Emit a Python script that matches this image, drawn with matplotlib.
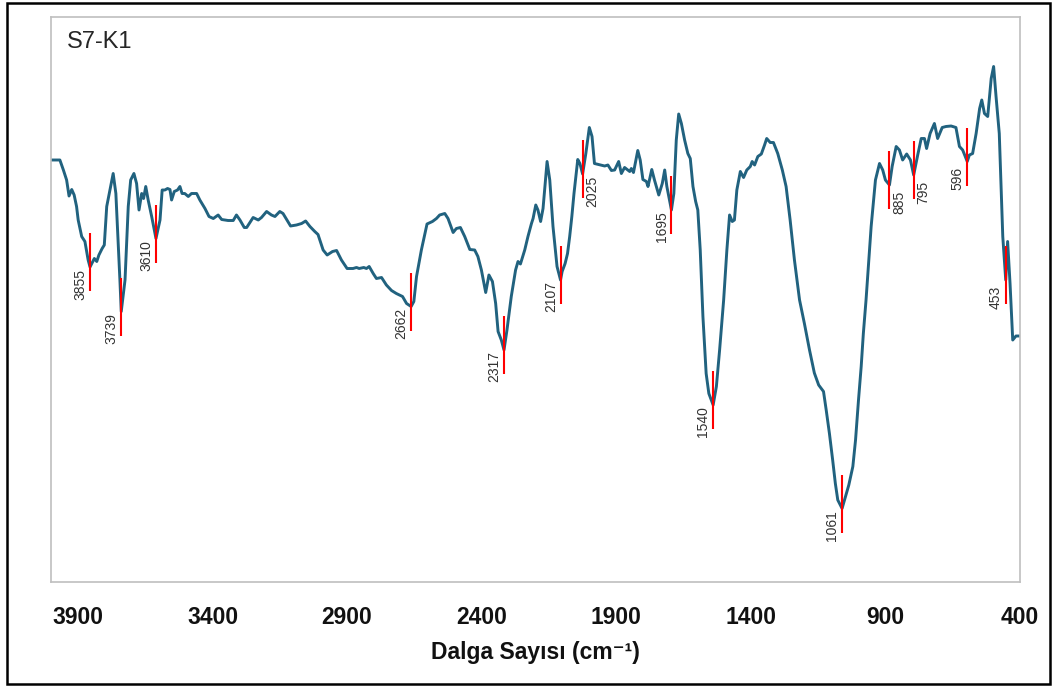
import numpy as np
import matplotlib
matplotlib.use("Agg")
import matplotlib.pyplot as plt
from matplotlib.patches import Rectangle

plt.rcParams['font.family'] = ['Liberation Sans', 'DejaVu Sans']

# FTIR spectrum of sample S7-K1
wavenumber = [4000, 3967, 3954, 3942, 3933, 3923, 3914, 3905, 3899, 3886, 3874, 3862, 3855, 3839, 3830,
              3822, 3810, 3802, 3793, 3781, 3769, 3759, 3744, 3739, 3725, 3713, 3704, 3692, 3682, 3673,
              3663, 3656, 3648, 3639, 3626, 3610, 3595, 3587, 3577, 3567, 3558, 3552, 3542, 3530, 3521,
              3513, 3503, 3490, 3478, 3459, 3447, 3428, 3413, 3397, 3379, 3366, 3342, 3323, 3311, 3298,
              3282, 3273, 3249, 3230, 3218, 3199, 3181, 3168, 3150, 3138, 3110, 3088, 3069, 3054, 3038,
              3020, 3008, 2989, 2974, 2954, 2939, 2921, 2900, 2878, 2865, 2855, 2838, 2828, 2818, 2803,
              2791, 2772, 2754, 2735, 2717, 2694, 2679, 2662, 2652, 2642, 2624, 2603, 2583, 2568, 2556,
              2537, 2525, 2506, 2494, 2479, 2463, 2444, 2426, 2414, 2401, 2385, 2373, 2360, 2348, 2339,
              2327, 2317, 2306, 2290, 2274, 2265, 2256, 2240, 2228, 2215, 2209, 2199, 2191, 2181, 2172,
              2157, 2147, 2135, 2120, 2107, 2101, 2090, 2081, 2073, 2065, 2057, 2043, 2035, 2025, 2013,
              2000, 1990, 1981, 1943, 1931, 1918, 1906, 1891, 1881, 1869, 1850, 1844, 1836, 1820, 1811,
              1801, 1788, 1782, 1768, 1758, 1742, 1729, 1720, 1712, 1695, 1686, 1677, 1668, 1658, 1646,
              1634, 1625, 1615, 1605, 1597, 1588, 1578, 1566, 1556, 1540, 1528, 1516, 1501, 1489, 1479,
              1469, 1461, 1452, 1439, 1427, 1415, 1402, 1395, 1386, 1374, 1361, 1349, 1341, 1328, 1316,
              1300, 1283, 1269, 1254, 1238, 1219, 1201, 1182, 1164, 1148, 1130, 1120, 1108, 1096, 1086,
              1077, 1061, 1052, 1036, 1021, 1011, 1000, 990, 982, 972, 953, 937, 922, 910, 900,
              885, 875, 860, 848, 836, 821, 807, 795, 780, 767, 755, 747, 734, 718, 706,
              689, 675, 656, 638, 625, 613, 596, 588, 576, 563, 550, 542, 532, 520, 507,
              498, 489, 477, 464, 453, 446, 437, 427, 415, 400]

transmittance = [84.4, 84.4, 82.4, 80.4, 77.2, 78.5, 77.4, 75.1, 72.4, 69.1, 68.1, 64.4, 63.0, 64.7, 64.1,
                 65.4, 66.7, 67.4, 75.1, 78.4, 81.7, 77.7, 60.4, 54.1, 60.4, 75.1, 80.4, 81.7, 79.7, 74.4,
                 77.7, 76.7, 79.1, 76.4, 73.1, 68.7, 72.4, 78.4, 78.4, 78.7, 78.5, 76.4, 78.1, 78.4, 79.1,
                 77.7, 77.7, 77.1, 77.7, 77.7, 76.4, 74.7, 73.1, 72.7, 73.4, 72.5, 72.3, 72.3, 73.4, 72.4,
                 70.9, 70.9, 72.9, 72.4, 72.9, 74.1, 73.4, 73.1, 74.1, 73.7, 71.2, 71.4, 71.7, 72.2, 71.1,
                 70.1, 69.5, 66.4, 65.4, 66.1, 66.3, 64.4, 62.7, 62.7, 62.9, 62.7, 62.9, 62.7, 63.1, 61.7,
                 60.7, 60.9, 59.4, 58.3, 57.7, 57.1, 55.7, 55.1, 56.1, 61.1, 66.4, 71.6, 72.1, 72.7, 73.4,
                 73.7, 72.7, 69.9, 70.7, 70.9, 69.1, 66.5, 66.4, 65.1, 62.4, 57.9, 61.4, 60.1, 55.7, 50.1,
                 48.4, 46.4, 50.4, 57.1, 62.4, 64.1, 63.6, 66.4, 69.1, 71.7, 72.7, 75.4, 74.4, 72.1, 74.7,
                 84.1, 80.4, 71.1, 63.1, 60.4, 62.1, 63.7, 65.7, 69.1, 73.1, 77.7, 84.5, 83.7, 81.6, 85.7,
                 90.9, 89.1, 83.7, 83.2, 83.4, 82.3, 82.4, 84.1, 81.7, 82.9, 82.1, 82.7, 81.9, 86.3, 84.4,
                 80.5, 80.1, 79.1, 82.5, 80.4, 77.4, 79.7, 82.4, 79.1, 74.4, 77.7, 88.4, 93.6, 91.7, 88.4,
                 85.7, 84.7, 79.1, 76.1, 74.4, 66.4, 53.1, 41.7, 37.7, 35.4, 39.1, 46.4, 56.4, 66.4, 73.4,
                 72.1, 72.4, 78.4, 82.1, 80.9, 82.4, 83.1, 84.1, 83.4, 85.1, 85.6, 87.4, 88.7, 87.9, 87.9,
                 85.7, 82.4, 79.1, 72.4, 64.4, 56.4, 51.7, 46.4, 41.8, 39.4, 38.1, 34.4, 29.7, 24.4, 19.7,
                 16.4, 14.7, 16.4, 19.4, 23.1, 28.4, 36.4, 43.1, 49.7, 56.4, 71.1, 80.4, 83.7, 82.4, 80.4,
                 79.4, 83.1, 87.1, 86.4, 84.4, 85.6, 84.4, 81.4, 85.4, 88.7, 88.7, 86.7, 89.7, 91.7, 88.7,
                 90.9, 91.1, 91.2, 90.9, 87.1, 86.4, 84.1, 85.4, 85.7, 89.7, 94.7, 96.4, 93.7, 93.1, 100.7,
                 103.1, 97.1, 89.7, 69.1, 60.4, 68.1, 59.7, 48.4, 49.2, 49.2]

# Marked absorption bands
peaks = [3855, 3739, 3610, 2662, 2317, 2107, 2025, 1695, 1540, 1061, 885, 795, 596, 453]
labels_right = {2025, 885, 795}

tick_values = [3900, 3400, 2900, 2400, 1900, 1400, 900, 400]

W, H = 1055, 686
fig = plt.figure(figsize=(W / 100, H / 100), dpi=100)
ax = fig.add_axes([51 / W, 1 - 582 / H, (1020 - 51) / W, (582 - 17) / H])

line_color = '#21627F'
ax.plot(wavenumber, transmittance, color=line_color, lw=2.1,
        solid_joinstyle='round', solid_capstyle='round')

wn_sorted = np.array(wavenumber[::-1], dtype=float)
tr_sorted = np.array(transmittance[::-1], dtype=float)
for p in peaks:
    y = np.interp(p, wn_sorted, tr_sorted)
    ax.vlines(p, y - 4.8, y + 6.8, color='#FF0000', lw=1.5, zorder=3)
    dx = 7 if p in labels_right else -7
    ax.annotate(str(p), xy=(p, y - 3.4), xytext=(dx, 0), textcoords='offset points',
                rotation=90, ha='center', va='center', fontsize=10, color='#333333')

ax.set_xlim(4000, 400)
ax.set_ylim(0, 113)
ax.set_xticks(tick_values)
ax.set_xticklabels([str(t) for t in tick_values], fontsize=16.5, fontweight='bold', color='#111111')
ax.tick_params(axis='x', length=0, pad=17)
ax.set_yticks([])
for s in ax.spines.values():
    s.set_color('#BFBFBF')
    s.set_linewidth(1.2)

ax.set_xlabel('Dalga Sayısı (cm⁻¹)', fontsize=16.5, fontweight='bold',
              color='#111111', labelpad=9)

ax.text(0.016, 0.975, 'S7-K1', transform=ax.transAxes, fontsize=17, color='#262626',
        ha='left', va='top')

# Outer frame
fig.patches.append(Rectangle((7 / W, 2 / H), (1050 - 7) / W, (683 - 2) / H,
                             transform=fig.transFigure, fill=False, edgecolor='black',
                             lw=1.8, zorder=10))

fig.savefig('out.png', dpi=100)
